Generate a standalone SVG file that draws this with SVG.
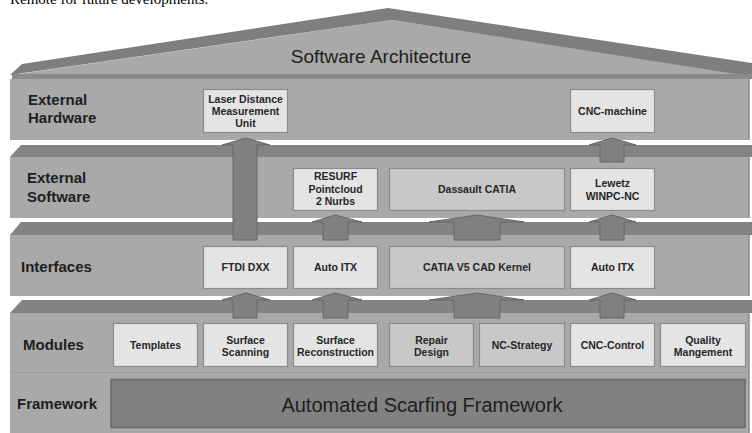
<svg xmlns="http://www.w3.org/2000/svg" width="752" height="433" viewBox="0 0 752 433">
<style>
.face{fill:#a9a9a9}
.top{fill:#838383}
.edge{stroke:#8c8c8c;stroke-width:1.5}
.lbl{font-family:"Liberation Sans",Arial,sans-serif;font-weight:bold;font-size:15px;fill:#1e1e1e}
.box{stroke:#8a8a8a;stroke-width:1.2}
.lt{fill:#e4e4e4}
.md{fill:#c8c8c8}
.bt{font-family:"Liberation Sans",Arial,sans-serif;font-weight:bold;font-size:10.5px;fill:#262626;text-anchor:middle}
.arr{fill:#808080;stroke:#666;stroke-width:1}
</style>
<rect width="752" height="433" fill="#fff"/>
<text x="10" y="4" font-family="Liberation Serif,serif" font-size="15" fill="#000">Remote for future developments.</text>
<!-- roof -->
<polygon points="12,75 392,20 749,75" fill="#a9a9a9"/>
<polygon points="10,75 22,64 388,8 752,63 752,76 749,76 392,20" fill="#7e7e7e"/>
<rect x="12" y="74" width="740" height="5" fill="#8a8a8a"/>
<!-- slabs -->
<rect class="face" x="10" y="79" width="739" height="61"/>
<polygon class="top" points="21,145 752,145 752,157 10,157"/>
<rect class="face" x="10" y="157" width="739" height="61"/>
<polygon class="top" points="21,222 752,222 752,235 10,235"/>
<rect class="face" x="10" y="235" width="739" height="61"/>
<polygon class="top" points="22,300 752,300 752,313 10,313"/>
<rect class="face" x="10" y="313" width="739" height="125"/>
<line x1="10" y1="372.5" x2="749" y2="372.5" stroke="#9c9c9c" stroke-width="1"/>
<g class="edge">
<line x1="749" y1="79" x2="749" y2="140"/>
<line x1="749" y1="157" x2="749" y2="218"/>
<line x1="749" y1="235" x2="749" y2="296"/>
<line x1="749" y1="313" x2="749" y2="433"/>
</g>
<text x="381" y="63" text-anchor="middle" font-family="Liberation Sans,Arial,sans-serif" font-size="19" fill="#1e1e1e">Software Architecture</text>
<g id="layer-labels">
<text class="lbl" x="28" y="105">External</text>
<text class="lbl" x="28" y="123">Hardware</text>
<text class="lbl" x="27" y="183">External</text>
<text class="lbl" x="27" y="201.5">Software</text>
<text class="lbl" x="21" y="272">Interfaces</text>
<text class="lbl" x="23" y="350">Modules</text>
<text class="lbl" x="17" y="409">Framework</text>
</g>
<!-- connectors -->
<g id="connectors">
<polygon class="arr" points="222,145 246,138 270,145 257,145 257,240 233,240 233,145"/>
<polygon class="arr" points="589,145 612,138 636,145 624,145 624,162 600,162 600,145"/>
<polygon class="arr" points="312,222 335,215 362,222 348,222 348,240 323,240 323,222"/>
<polygon class="arr" points="429,222 477,215 524,222 500,222 500,240 454,240 454,222"/>
<polygon class="arr" points="589,222 612,215 636,222 624,222 624,240 600,240 600,222"/>
<polygon class="arr" points="222,300 246,293 270,300 257,300 257,318 233,318 233,300"/>
<polygon class="arr" points="312,300 335,293 362,300 348,300 348,318 323,318 323,300"/>
<polygon class="arr" points="429,300 477,293 524,300 500,300 500,318 454,318 454,300"/>
<polygon class="arr" points="589,300 612,293 636,300 624,300 624,318 600,318 600,300"/>
</g>
<!-- External Hardware -->
<g id="laser">
<rect class="box lt" x="203.5" y="89.5" width="84" height="43"/>
<text class="bt" x="245.5" y="102.5">Laser Distance</text>
<text class="bt" x="245.5" y="114.5">Measurement</text>
<text class="bt" x="245.5" y="126.5">Unit</text>
</g>
<g id="cnc-machine">
<rect class="box lt" x="570.5" y="89.5" width="84" height="43"/>
<text class="bt" x="612.5" y="114.5">CNC-machine</text>
</g>
<!-- External Software -->
<g id="resurf">
<rect class="box lt" x="293.5" y="168.5" width="84" height="42"/>
<text class="bt" x="335.5" y="180">RESURF</text>
<text class="bt" x="335.5" y="192.5">Pointcloud</text>
<text class="bt" x="335.5" y="205">2 Nurbs</text>
</g>
<g id="dassault">
<rect class="box md" x="389.5" y="168.5" width="175" height="42"/>
<text class="bt" x="477" y="193">Dassault CATIA</text>
</g>
<g id="lewetz">
<rect class="box lt" x="570.5" y="168.5" width="84" height="42"/>
<text class="bt" x="612.5" y="187">Lewetz</text>
<text class="bt" x="612.5" y="199.5">WINPC-NC</text>
</g>
<!-- Interfaces -->
<g id="ftdi">
<rect class="box lt" x="203.5" y="246.5" width="84" height="42"/>
<text class="bt" x="245.5" y="271">FTDI DXX</text>
</g>
<g id="autoitx1">
<rect class="box lt" x="293.5" y="246.5" width="84" height="42"/>
<text class="bt" x="335.5" y="271">Auto ITX</text>
</g>
<g id="catia-kernel">
<rect class="box md" x="389.5" y="246.5" width="175" height="42"/>
<text class="bt" x="477" y="271">CATIA V5 CAD Kernel</text>
</g>
<g id="autoitx2">
<rect class="box lt" x="570.5" y="246.5" width="84" height="42"/>
<text class="bt" x="612.5" y="271">Auto ITX</text>
</g>
<!-- Modules -->
<g id="templates">
<rect class="box lt" x="113.5" y="323.5" width="84" height="43"/>
<text class="bt" x="155.5" y="349">Templates</text>
</g>
<g id="scanning">
<rect class="box lt" x="203.5" y="323.5" width="84" height="43"/>
<text class="bt" x="245.5" y="343.5">Surface</text>
<text class="bt" x="245.5" y="356">Scanning</text>
</g>
<g id="reconstruction">
<rect class="box lt" x="293.5" y="323.5" width="84" height="43"/>
<text class="bt" x="335.5" y="343.5">Surface</text>
<text class="bt" x="335.5" y="356">Reconstruction</text>
</g>
<g id="repair">
<rect class="box md" x="389.5" y="323.5" width="84" height="43"/>
<text class="bt" x="431.5" y="343.5">Repair</text>
<text class="bt" x="431.5" y="356">Design</text>
</g>
<g id="ncstrategy">
<rect class="box md" x="479.5" y="323.5" width="85" height="43"/>
<text class="bt" x="522" y="349">NC-Strategy</text>
</g>
<g id="cnccontrol">
<rect class="box lt" x="570.5" y="323.5" width="84" height="43"/>
<text class="bt" x="612.5" y="349">CNC-Control</text>
</g>
<g id="quality">
<rect class="box lt" x="660.5" y="323.5" width="85" height="43"/>
<text class="bt" x="703" y="343.5">Quality</text>
<text class="bt" x="703" y="356">Mangement</text>
</g>
<!-- Framework -->
<g id="framework">
<rect x="111" y="379.5" width="634" height="48" fill="#818181" stroke="#6a6a6a" stroke-width="1.5"/>
<text x="422" y="412" text-anchor="middle" font-family="Liberation Sans,Arial,sans-serif" font-size="20" fill="#1e1e1e">Automated Scarfing Framework</text>
</g>
</svg>
